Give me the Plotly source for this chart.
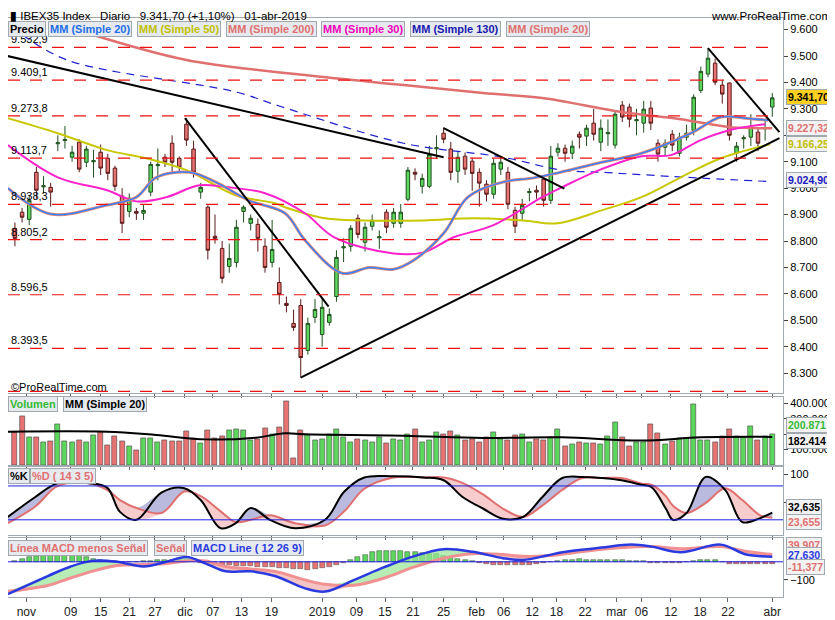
import plotly.graph_objects as go
from plotly.subplots import make_subplots

# --- candles (trading day index 0 = 29-oct-2018 ... 106 = 01-abr-2019)
opens = [8848, 8909, 8882, 9060, 9005, 9003, 9168, 9180, 9117, 9174, 9098, 9100, 9136, 9113, 9076, 8970, 8912, 8912, 8905, 8985,
         9085, 9117, 9170, 9113, 9242, 9148, 8985, 8928, 8818, 8772, 8704, 8719, 8912, 8867, 8863, 8780, 8719, 8643, 8564, 8488,
         8556, 8386, 8511, 8446, 8492, 8590, 8774, 8780, 8886, 8795, 8856, 8812, 8909, 8867, 8867, 8958, 9060, 9007, 9007, 9149,
         9208, 9148, 9064, 9121, 9102, 9060, 9015, 8977, 9072, 9060, 8916, 8905, 8983, 8992, 9034, 8954, 9136, 9151, 9132, 9204,
         9197, 9246, 9174, 9206, 9163, 9314, 9307, 9255, 9246, 9303, 9170, 9155, 9204, 9132, 9193, 9219, 9370, 9432, 9473, 9390,
         9398, 9132, 9187, 9193, 9212, 9225, 9307]
closes = [8810, 8890, 8954, 8992, 9009, 8985, 9172, 9184, 9136, 9072, 9148, 9104, 9076, 9056, 9007, 8867, 8962, 8905, 8916, 9090,
          9089, 9098, 9098, 9079, 9182, 9060, 9003, 8765, 8810, 8659, 8734, 8852, 8928, 8886, 8810, 8700, 8768, 8598, 8556, 8473,
          8359, 8488, 8541, 8549, 8522, 8738, 8778, 8848, 8825, 8852, 8878, 8816, 8852, 8909, 8909, 9068, 9053, 9037, 9128, 9153,
          9185, 9060, 9117, 9072, 9056, 9019, 8977, 9094, 9098, 8939, 8856, 8935, 8987, 8985, 8954, 9121, 9151, 9132, 9159, 9193,
          9227, 9204, 9227, 9210, 9280, 9269, 9261, 9259, 9299, 9246, 9129, 9170, 9163, 9193, 9208, 9344, 9442, 9492, 9401, 9356,
          9200, 9159, 9191, 9231, 9170, 9229, 9341.7]
highs = [8870, 8925, 8975, 9080, 9045, 9020, 9200, 9235, 9160, 9185, 9160, 9145, 9165, 9130, 9085, 9000, 8980, 8925, 8940, 9100,
         9150, 9130, 9200, 9120, 9265, 9180, 9020, 8935, 8900, 8800, 8790, 8880, 8935, 8900, 8885, 8810, 8880, 8700, 8590, 8540,
         8580, 8510, 8580, 8585, 8545, 8765, 8810, 8860, 8900, 8870, 8900, 8840, 8920, 8925, 8940, 9080, 9075, 9055, 9160, 9200,
         9230, 9175, 9140, 9135, 9115, 9075, 9030, 9110, 9115, 9080, 8930, 8960, 9000, 9010, 9045, 9160, 9170, 9165, 9180, 9215,
         9240, 9300, 9260, 9260, 9290, 9330, 9320, 9300, 9330, 9330, 9185, 9185, 9220, 9210, 9240, 9355, 9460, 9530, 9490, 9410,
         9400, 9175, 9200, 9280, 9225, 9255, 9360]
lows = [8780, 8870, 8860, 8960, 8980, 8930, 9140, 9150, 9100, 9060, 9080, 9040, 9050, 9030, 8990, 8830, 8890, 8880, 8880, 8970,
        9030, 9080, 9060, 9060, 9160, 9040, 8960, 8730, 8790, 8640, 8680, 8700, 8870, 8840, 8760, 8680, 8700, 8560, 8530, 8460,
        8283, 8370, 8490, 8400, 8480, 8570, 8720, 8760, 8810, 8760, 8840, 8770, 8830, 8850, 8850, 8950, 9030, 8980, 9000, 9110,
        9170, 9030, 9020, 9050, 8990, 8930, 8950, 8960, 9050, 8920, 8830, 8880, 8950, 8960, 8930, 8940, 9120, 9100, 9110, 9150,
        9160, 9180, 9140, 9160, 9150, 9250, 9230, 9200, 9210, 9220, 9100, 9120, 9140, 9120, 9180, 9200, 9360, 9420, 9390, 9320,
        9180, 9100, 9150, 9160, 9140, 9180, 9270]
volumes_k = [210, 318, 179, 179, 147, 153, 266, 153, 147, 160, 147, 192, 212, 127, 188, 153, 121, 95, 173, 173,
             150, 160, 153, 153, 218, 173, 140, 225, 173, 186, 225, 231, 225, 160, 166, 238, 199, 244, 413, 43,
             225, 190, 160, 170, 200, 230, 180, 150, 170, 160, 150, 180, 140, 170, 160, 200, 230, 150, 160, 210,
             200, 220, 190, 160, 170, 150, 180, 210, 170, 160, 190, 200, 150, 170, 160, 180, 230, 123, 136, 149,
             143, 143, 136, 188, 279, 181, 123, 149, 149, 266, 207, 136, 156, 175, 175, 395, 162, 162, 149, 188,
             233, 188, 181, 253, 162, 188, 201]
macd_hist = [5, 15, 25, 35, 45, 52, 55, 52, 45, 38, 28, 18, 10, 5, 2, -3, -3, -2, 2, 5,
             8, 10, 10, 12, 8, 3, -5, -10, -15, -18, -20, -22, -22, -24, -26, -28, -30, -32, -36, -40,
             -42, -44, -40, -35, -28, -18, -5, 10, 25, 40, 55, 60, 62, 60, 58, 55, 55, 50, 45, 42,
             35, 25, 15, 10, 5, -5, -12, -18, -20, -20, -20, -20, -18, -12, -5, 0, 5, 10, 12, 15,
             12, 10, 10, 10, 10, 8, 6, 4, 2, -5, -8, -8, -8, -6, -3, 5, 10, 10, 8, -3,
             -10, -12, -12, -14, -14, -12, -11]

# --- moving averages read at sample days
mm20_x = [-1, 5, 12.9, 17, 19.8, 24.4, 28.1, 32.7, 37.8, 40.6, 45.8, 49.6, 53, 55.8, 60, 63.4, 68.3, 72.4, 75.9, 82.1, 87.7, 94.6, 98.8, 102.2, 105.4]
mm20_y = [9000, 8902, 8936, 8966, 9041, 9060, 9023, 8954, 8905, 8803, 8678, 8700, 8693, 8727, 8829, 8966, 9023, 9038, 9057, 9098, 9132, 9208, 9269, 9265, 9257]
mm50_x = [-1, 6, 12.9, 18.4, 24, 30.9, 36.4, 37.8, 43.4, 48.9, 57.2, 64.1, 71.1, 75.9, 82.1, 87.7, 93.2, 98.8, 105.7]
mm50_y = [9265, 9208, 9144, 9113, 9068, 8973, 8943, 8928, 8886, 8878, 8878, 8886, 8878, 8867, 8916, 8966, 9041, 9113, 9166]
mm30_x = [-1, 6, 12.9, 17, 21.2, 25.8, 29.5, 35, 40.6, 44.7, 53, 57.2, 61.4, 66.9, 73.8, 76.6, 82.1, 87.7, 91.8, 96, 100.1, 105]
mm30_y = [9163, 9041, 8992, 8950, 8966, 9011, 9004, 8981, 8905, 8814, 8753, 8757, 8814, 8859, 8966, 9004, 9072, 9121, 9125, 9182, 9220, 9242]
mm200_x = [10.1, 24, 40.6, 54.4, 65.5, 73.8, 84.9, 93.2, 100.1, 106]
mm200_y = [9587, 9485, 9428, 9390, 9360, 9341, 9288, 9261, 9231, 9227]
mm130_x = [1.1, 7.3, 30.9, 37.1, 54.4, 68.3, 76.6, 82.1, 96, 105.7]
mm130_y = [9580, 9485, 9364, 9310, 9170, 9117, 9068, 9060, 9038, 9025]
volma_x = [-1, 12.9, 19.8, 26.7, 33.7, 37.8, 40.6, 54.4, 65.5, 76.6, 87.7, 96, 106]
volma_k = [216, 216, 194, 166, 177, 205, 199, 190, 175, 179, 158, 179, 182]

# --- trend lines drawn on the chart (day, price)
trendlines = [
    ([-1, 60], [9500, 9117]),
    ([23.8, 43.9], [9265, 8552]),
    ([40, 107], [8283, 9189]),
    ([60, 76.9], [9227, 8998]),
    ([97, 107], [9530, 9212]),
]
levels = [9532.9, 9409.1, 9273.8, 9113.7, 8938.3, 8805.2, 8596.5, 8393.5, 8231.0]
level_text = ["9.532,9", "9.409,1", "9.273,8", "9.113,7", "8.938,3", "8.805,2", "8.596,5", "8.393,5", ""]

# --- stochastic
sto_x = [-1, 2.8, 6, 10.1, 12.9, 14.7, 17, 20.5, 23.7, 26, 28.8, 30.9, 33, 35.7, 39.2, 43.4, 46.1, 48.9, 53, 57.2,
         60, 62.7, 65.5, 68.3, 71.1, 73.8, 76.6, 79.4, 82.1, 84.9, 87.7, 89.1, 91.1, 92.1, 94, 96.7, 99.4, 101.8, 104.3, 106]
sto_k = [25, 60, 85, 85, 77, 34, 20, 68, 76, 55, 5, 14, 41, 20, 5, 20, 70, 95, 97, 95,
         90, 60, 40, 22, 25, 60, 94, 96, 94, 90, 82, 78, 40, 20, 32, 96, 73, 16, 23, 32.6]
sto_d = [14, 43, 80, 85, 73, 55, 41, 32, 70, 62, 35, 16, 20, 28, 14, 10, 35, 75, 95, 95,
         95, 85, 65, 40, 25, 45, 73, 94, 94, 94, 84, 82, 62, 45, 32, 50, 76, 55, 28, 23.7]

# --- MACD
macd_x = [-1, 4.6, 7.8, 10.8, 14.3, 18, 21.2, 24, 26.7, 29.5, 33, 36.4, 40.6, 43.4, 47.5, 51.7, 55.8, 60, 64.1, 68.3,
          71.1, 74.5, 76.6, 82.1, 86.3, 89.1, 93.2, 98.8, 102.2, 106]
macd_line = [-179, -79, -26, 5, 0, -26, 0, 26, -10, -53, -53, -79, -147, -165, -100, -30, 30, 70, 55, 20,
             10, 35, 53, 79, 95, 84, 53, 95, 42, 28]
macd_signal = [-163, -131, -90, -53, -21, -15, -10, 5, 5, -26, -40, -53, -100, -125, -130, -90, -30, 20, 45, 40,
               30, 33, 42, 70, 82, 84, 72, 84, 58, 40]

tick_pos = [1.6, 7.8, 12, 16, 19.6, 23.8, 27.7, 31.7, 35.9, 43, 47.8, 51.8, 55.7, 60, 64.6, 68.4, 72.4, 75.8, 79.8, 84.2, 87.7, 91.8, 95.9, 99.8, 106]
tick_text = ["nov", "09", "15", "21", "27", "dic", "07", "13", "19", "2019", "09", "15", "21", "25", "feb", "06",
             "12", "18", "22", "mar", "06", "12", "18", "22", "abr"]

GREEN = "#5cd65c"
RED = "#e87373"
days = list(range(len(opens)))
XR = [-0.97, 107.5]

fig = make_subplots(rows=4, cols=1, shared_xaxes=True, vertical_spacing=0.004)

# price
fig.add_trace(go.Candlestick(x=days, open=opens, high=highs, low=lows, close=closes, whiskerwidth=0,
                             increasing=dict(fillcolor=GREEN, line=dict(color="#1f4f1f", width=1)),
                             decreasing=dict(fillcolor=RED, line=dict(color="#5a1a1a", width=1))), row=1, col=1)
fig.add_trace(go.Scatter(x=mm200_x, y=mm200_y, mode="lines", line=dict(color="#e07070", width=2.5, shape="spline")), row=1, col=1)
fig.add_trace(go.Scatter(x=mm130_x, y=mm130_y, mode="lines", line=dict(color="#2020d0", width=1.2, dash="8px,6px", shape="spline")), row=1, col=1)
fig.add_trace(go.Scatter(x=mm50_x, y=mm50_y, mode="lines", line=dict(color="#c8c800", width=2, shape="spline")), row=1, col=1)
fig.add_trace(go.Scatter(x=mm30_x, y=mm30_y, mode="lines", line=dict(color="#ff22cc", width=2, shape="spline")), row=1, col=1)
fig.add_trace(go.Scatter(x=mm20_x, y=mm20_y, mode="lines", line=dict(color="#e88a70", width=3, shape="spline")), row=1, col=1)
fig.add_trace(go.Scatter(x=mm20_x, y=mm20_y, mode="lines", line=dict(color="#3a80ff", width=1.5, shape="spline")), row=1, col=1)
for tx, ty in trendlines:
    fig.add_trace(go.Scatter(x=tx, y=ty, mode="lines", line=dict(color="black", width=2)), row=1, col=1)

# volume
vol_colors = [GREEN if c >= o else RED for o, c in zip(opens, closes)]
fig.add_trace(go.Bar(x=days, y=[v * 1000 for v in volumes_k], marker=dict(color=vol_colors, line=dict(color="#444", width=0.6)),
                     width=0.7), row=2, col=1)
fig.add_trace(go.Scatter(x=volma_x, y=[v * 1000 for v in volma_k], mode="lines", line=dict(color="black", width=2, shape="spline")), row=2, col=1)

# stochastic with two-colour fill
k_hi = [max(k, d) for k, d in zip(sto_k, sto_d)]
k_lo = [min(k, d) for k, d in zip(sto_k, sto_d)]
fig.add_trace(go.Scatter(x=sto_x, y=sto_d, mode="lines", line=dict(width=0), line_shape="spline"), row=3, col=1)
fig.add_trace(go.Scatter(x=sto_x, y=k_hi, mode="lines", line=dict(width=0), line_shape="spline", fill="tonexty", fillcolor="rgba(140,140,200,0.6)"), row=3, col=1)
fig.add_trace(go.Scatter(x=sto_x, y=sto_d, mode="lines", line=dict(width=0), line_shape="spline"), row=3, col=1)
fig.add_trace(go.Scatter(x=sto_x, y=k_lo, mode="lines", line=dict(width=0), line_shape="spline", fill="tonexty", fillcolor="rgba(240,170,170,0.6)"), row=3, col=1)
fig.add_trace(go.Scatter(x=sto_x, y=sto_d, mode="lines", line=dict(color="#e07070", width=2, shape="spline")), row=3, col=1)
fig.add_trace(go.Scatter(x=sto_x, y=sto_k, mode="lines", line=dict(color="black", width=2, shape="spline")), row=3, col=1)

# MACD
fig.add_trace(go.Bar(x=days, y=macd_hist, marker=dict(color=[GREEN if h >= 0 else RED for h in macd_hist], line=dict(color="#444", width=0.5)),
                     width=0.7), row=4, col=1)
m_hi = [max(a, b) for a, b in zip(macd_line, macd_signal)]
m_lo = [min(a, b) for a, b in zip(macd_line, macd_signal)]
fig.add_trace(go.Scatter(x=macd_x, y=macd_signal, mode="lines", line=dict(width=0), line_shape="spline"), row=4, col=1)
fig.add_trace(go.Scatter(x=macd_x, y=m_hi, mode="lines", line=dict(width=0), line_shape="spline", fill="tonexty", fillcolor="rgba(150,230,150,0.7)"), row=4, col=1)
fig.add_trace(go.Scatter(x=macd_x, y=macd_signal, mode="lines", line=dict(width=0), line_shape="spline"), row=4, col=1)
fig.add_trace(go.Scatter(x=macd_x, y=m_lo, mode="lines", line=dict(width=0), line_shape="spline", fill="tonexty", fillcolor="rgba(240,170,170,0.7)"), row=4, col=1)
fig.add_trace(go.Scatter(x=macd_x, y=macd_signal, mode="lines", line=dict(color="#f09090", width=3, shape="spline")), row=4, col=1)
fig.add_trace(go.Scatter(x=macd_x, y=macd_line, mode="lines", line=dict(color="#2a3ae0", width=2.5, shape="spline")), row=4, col=1)

# the page sits 8px in from the window corner, so the figure is 8px smaller each way
font = "Liberation Sans"
fig.update_layout(
    width=827, height=612, margin=dict(l=0, r=52, t=10, b=23, autoexpand=False), showlegend=False,
    paper_bgcolor="white", plot_bgcolor="white", separators=",.", bargap=0,
    font=dict(family=font, size=11, color="black"),
    xaxis_rangeslider_visible=False,
    yaxis=dict(domain=[0.352, 1.0], range=[8224, 9644], tickvals=[8300, 8400, 8500, 8600, 8700, 8800, 8900, 9000, 9100, 9200, 9300, 9400, 9500, 9600]),
    yaxis2=dict(domain=[0.228, 0.345], range=[0, 439000], tickvals=[100000, 200000, 300000, 400000]),
    yaxis3=dict(domain=[0.107, 0.225], range=[-7, 114], tickvals=[50, 100]),
    yaxis4=dict(domain=[0.0, 0.102], range=[-195, 132], tickvals=[-100]),
)
fig.update_xaxes(range=XR, showgrid=False, showline=True, mirror=True, linecolor="#a0a8b0", automargin=False,
                 ticks="outside", ticklen=4, tickcolor="#666", tickvals=tick_pos, ticktext=tick_text, zeroline=False)
fig.update_xaxes(tickfont=dict(size=12, family=font, color="#222"), row=4, col=1)
fig.update_yaxes(side="right", showgrid=False, showline=True, mirror=True, linecolor="#a0a8b0", zeroline=False,
                 automargin=False, ticks="outside", ticklen=4, tickcolor="#444", tickformat=",.0f",
                 tickfont=dict(size=11, family=font, color="black"))

# horizontal levels
for lv, txt in zip(levels, level_text):
    fig.add_shape(type="line", xref="x", yref="y", x0=XR[0], x1=106.3, y0=lv, y1=lv,
                  line=dict(color="#ee1111", width=1.2, dash="12px,10px"))
    if txt:
        fig.add_annotation(x=0.001, xref="paper", y=lv, yref="y", text=txt, showarrow=False,
                           xanchor="left", yanchor="bottom", font=dict(size=11, color="black"))
fig.add_shape(type="line", xref="x3", yref="y3", x0=XR[0], x1=XR[1], y0=80, y1=80, line=dict(color="#2020e0", width=1))
fig.add_shape(type="line", xref="x3", yref="y3", x0=XR[0], x1=XR[1], y0=20, y1=20, line=dict(color="#2020e0", width=1))
fig.add_shape(type="line", xref="x4", yref="y4", x0=XR[0], x1=XR[1], y0=0, y1=0, line=dict(color="#2020e0", width=1))


def py(px):
    return (597 - px) / 579


def xp(px):
    return (px - 8) / 775


def box(x0, ypx, text, color):
    fig.add_annotation(x=xp(x0 + 8), y=py(ypx), xref="paper", yref="paper", text="<b>" + text + "</b>",
                       showarrow=False, xanchor="left", yanchor="top", bgcolor="#e6eaee", bordercolor="#a0a8b0",
                       borderwidth=1, borderpad=1, font=dict(size=11, color=color))


box(0, 21, "Precio", "black")
for x0, t, c in [(40, "MM (Simple 20)", "#1e6ee8"), (129, "MM (Simple 50)", "#c0c000"), (218, "MM (Simple 200)", "#e07070"),
                 (313, "MM (Simple 30)", "#ee00bb"), (402, "MM (Simple 130)", "#1818b0"), (498, "MM (Simple 20)", "#e07070")]:
    box(x0, 21, t, c)
box(0, 396, "Volumen", "#33bb33")
box(55, 396, "MM (Simple 20)", "black")
box(0, 468, "%K", "black")
box(22, 468, "%D ( 14 3 5)", "#e07070")
box(0, 540, "Línea MACD menos Señal", "#e07070")
box(146, 540, "Señal", "#e07070")
box(183, 540, "MACD Line ( 12 26 9)", "#2a3ae0")


def rlabel(ypx, text, color, bg="#f2f2f2"):
    fig.add_annotation(x=xp(786), y=py(ypx), xref="paper", yref="paper", text="<b>" + text + "</b>", showarrow=False,
                       xanchor="left", yanchor="middle", bgcolor=bg, bordercolor="#a0a8b0", borderwidth=1,
                       borderpad=1, font=dict(size=10.5, color=color))


rlabel(97, "9.341,70", "black", "#ffd020")
rlabel(128, "9.227,32", "#e07070")
rlabel(144, "9.166,25", "#c0c000")
rlabel(180, "9.024,90", "#1818c0")
rlabel(425, "200.871", "#33bb33")
rlabel(441, "182.414", "black")
rlabel(507, "32,635", "black")
rlabel(522, "23,655", "#e07070")
rlabel(545, "39,907", "#e07070")
rlabel(555, "27,630", "#2a3ae0")
rlabel(567, "-11,377", "#e07070")

fig.add_annotation(x=xp(8), y=py(8), xref="paper", yref="paper", showarrow=False, xanchor="left", yanchor="top",
                   text="<b>▮</b> IBEX35 Index   Diario   9.341,70 (+1,10%)   01-abr-2019", font=dict(size=11.5, color="black"))
fig.add_annotation(x=xp(833), y=py(8), xref="paper", yref="paper", showarrow=False, xanchor="right", yanchor="top",
                   text="www.ProRealTime.com", font=dict(size=11.5, color="black"))
fig.add_annotation(x=0.001, y=py(387), xref="paper", yref="paper", showarrow=False, xanchor="left", yanchor="middle",
                   text="©ProRealTime.com", font=dict(size=11, color="black"))

fig.write_html("out.html")
